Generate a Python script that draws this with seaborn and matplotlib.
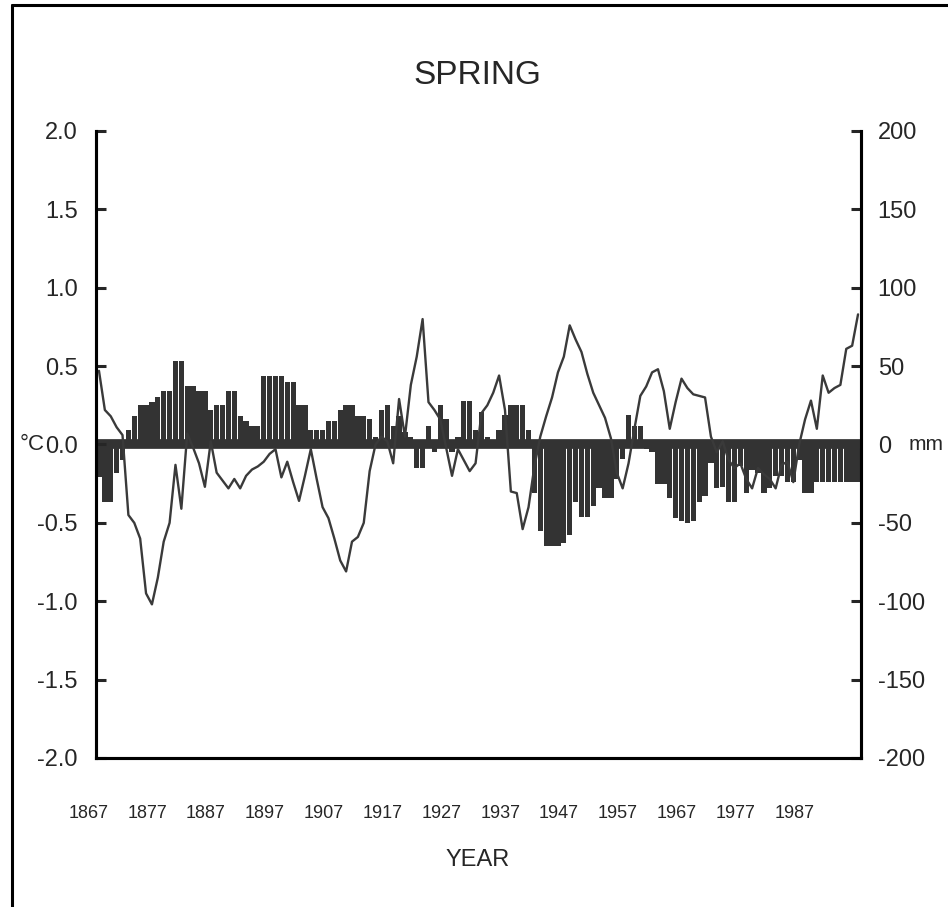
import matplotlib
matplotlib.use("Agg")
import matplotlib.pyplot as plt
import seaborn as sns
from matplotlib.lines import Line2D
from matplotlib.transforms import ScaledTranslation

# Spring temperature (°C) and precipitation (mm) anomalies, 1867-1996
years = list(range(1867, 1997))

temp_anom = [
    0.47, 0.22, 0.18, 0.11, 0.06, -0.45, -0.50, -0.60, -0.95, -1.02,   # 1867-1876
    -0.85, -0.62, -0.50, -0.13, -0.41, 0.07, -0.02, -0.12, -0.27, 0.02,  # 1877-1886
    -0.18, -0.23, -0.28, -0.22, -0.28, -0.20, -0.16, -0.14, -0.11, -0.06,  # 1887-1896
    -0.03, -0.21, -0.11, -0.24, -0.36, -0.20, -0.03, -0.22, -0.40, -0.47,  # 1897-1906
    -0.60, -0.74, -0.81, -0.62, -0.59, -0.50, -0.17, 0.00, 0.05, 0.02,   # 1907-1916
    -0.12, 0.29, 0.05, 0.38, 0.56, 0.80, 0.27, 0.22, 0.16, -0.02,      # 1917-1926
    -0.20, -0.03, -0.10, -0.17, -0.12, 0.20, 0.25, 0.33, 0.44, 0.22,    # 1927-1936
    -0.30, -0.31, -0.54, -0.40, -0.14, 0.05, 0.18, 0.30, 0.46, 0.56,    # 1937-1946
    0.76, 0.67, 0.59, 0.45, 0.33, 0.25, 0.17, 0.04, -0.18, -0.28,       # 1947-1956
    -0.12, 0.10, 0.31, 0.37, 0.46, 0.48, 0.34, 0.10, 0.27, 0.42,        # 1957-1966
    0.36, 0.32, 0.31, 0.30, 0.05, -0.05, 0.02, -0.10, -0.15, -0.12,     # 1967-1976
    -0.22, -0.28, -0.15, -0.19, -0.22, -0.28, -0.13, -0.11, -0.24, 0.00,  # 1977-1986
    0.16, 0.28, 0.10, 0.44, 0.33, 0.36, 0.38, 0.61, 0.63, 0.83,         # 1987-1996
]

precip_anom = [
    -21, -37, -37, -18, -10, 9, 18, 25, 25, 27,      # 1867-1876
    30, 34, 34, 53, 53, 37, 37, 34, 34, 22,          # 1877-1886
    25, 25, 34, 34, 18, 15, 12, 12, 44, 44,          # 1887-1896
    44, 44, 40, 40, 25, 25, 9, 9, 9, 15,             # 1897-1906
    15, 22, 25, 25, 18, 18, 16, 5, 22, 25,           # 1907-1916
    12, 18, 8, 5, -15, -15, 12, -5, 25, 16,          # 1917-1926
    -5, 5, 28, 28, 9, 21, 5, 3, 9, 19,               # 1927-1936
    25, 25, 25, 9, -31, -55, -65, -65, -65, -63,     # 1937-1946
    -58, -37, -46, -46, -39, -28, -34, -34, -22, -9,  # 1947-1956
    19, 12, 12, -3, -5, -25, -25, -34, -47, -49,     # 1957-1966
    -50, -49, -37, -33, -12, -28, -27, -37, -37, -14,  # 1967-1976
    -31, -16, -18, -31, -28, -20, -20, -24, -24, -10,  # 1977-1986
    -31, -31, -24, -24, -24, -24, -24, -24, -24, -24,  # 1987-1996
]

year_labels = ["1867", "1877", "1887", "1897", "1907", "1917", "1927",
               "1937", "1947", "1957", "1967", "1977", "1987", ""]
temp_ticks = [-2.0, -1.5, -1.0, -0.5, 0.0, 0.5, 1.0, 1.5, 2.0]
temp_labels = ["-2.0", "-1.5", "-1.0", "-0.5", "0.0", "0.5", "1.0", "1.5", "2.0"]
precip_ticks = [-200, -150, -100, -50, 0, 50, 100, 150, 200]
precip_labels = ["-200", "-150", "-100", "-50", "0", "50", "100", "150", "200"]

dark = "#333333"

sns.set_style("white")
plt.rcParams["font.family"] = ["Liberation Sans", "DejaVu Sans"]

fig = plt.figure(figsize=(9.48, 9.07), dpi=100)
ax = fig.add_axes([0.1013, 0.1643, 0.8069, 0.6913])
ax2 = ax.twinx()

# precipitation bars on the right axis
sns.barplot(x=years, y=precip_anom, ax=ax2, native_scale=True, color=dark,
            saturation=1, width=0.9, errorbar=None, linewidth=0)
ax2.axhline(0, color=dark, lw=7, zorder=3)

# temperature line on the left axis, drawn above the bars
sns.lineplot(x=years, y=temp_anom, ax=ax, color="#3a3a3a", lw=1.7)
ax.set_zorder(ax2.get_zorder() + 1)
ax.patch.set_visible(False)

ax.set_xlim(1866.5, 1996.5)
ax.set_ylim(-2.0, 2.0)
ax2.set_ylim(-200, 200)

ax.set_xticks([1866.5 + 10 * k for k in range(14)])
ax.set_xticklabels(year_labels)
ax.set_yticks(temp_ticks)
ax.set_yticklabels(temp_labels)
ax2.set_yticks(precip_ticks)
ax2.set_yticklabels(precip_labels)
for a in (ax, ax2):
    a.set_xlabel("")
    a.set_ylabel("")
    a.spines["top"].set_visible(False)
    for s in ("left", "right", "bottom"):
        a.spines[s].set_linewidth(2.2)
        a.spines[s].set_color("black")

ax.tick_params(axis="y", direction="in", length=7, width=2.2, labelsize=17, pad=13)
ax.tick_params(axis="x", direction="in", length=7, width=1.5, labelsize=13, pad=34)
ax2.tick_params(axis="y", direction="in", length=7, width=2.2, labelsize=17, pad=12)

# year labels sit a little left of their tick marks
shift = ScaledTranslation(-7.7 / 100, 0, fig.dpi_scale_trans)
for lab in ax.get_xticklabels():
    lab.set_transform(lab.get_transform() + shift)

zero_y = 1 - 444.5 / 907
fig.text(0.504, 0.917, "SPRING", ha="center", va="center", fontsize=24)
fig.text(0.504, 0.052, "YEAR", ha="center", va="center", fontsize=17)
fig.text(0.047, zero_y, "°C", ha="right", va="center", fontsize=16)
fig.text(0.958, zero_y, "mm", ha="left", va="center", fontsize=15)

# outer frame of the figure (left and top edges)
fig.add_artist(Line2D([0.013, 0.013], [0.0, 0.994], transform=fig.transFigure,
                      color="black", lw=2.2))
fig.add_artist(Line2D([0.013, 1.0], [0.994, 0.994], transform=fig.transFigure,
                      color="black", lw=2.2))

fig.savefig("out.png", dpi=100)
